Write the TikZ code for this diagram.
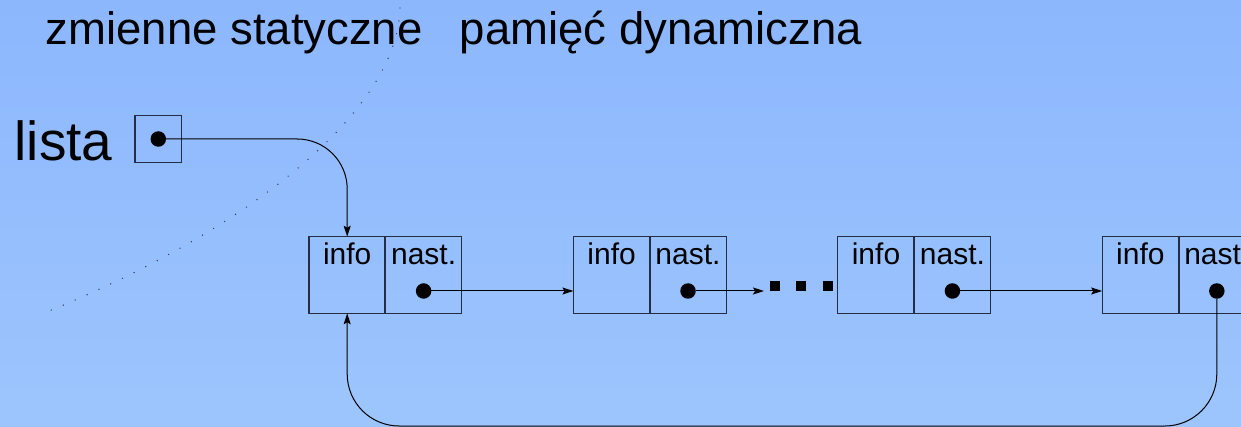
\documentclass[tikz,border=0pt]{standalone}
\usepackage{fontspec}
\setmainfont{Liberation Sans}
\usetikzlibrary{arrows.meta}
\definecolor{bgtop}{RGB}{140,183,253}
\definecolor{bgbot}{RGB}{157,197,253}
\definecolor{boxc}{RGB}{35,45,70}
\definecolor{dotc}{RGB}{45,55,85}
\tikzset{
  cell/.style={draw=boxc, line width=1.3pt, minimum width=76.4pt, minimum height=76.6pt, inner sep=0pt, outer sep=0pt},
  ptr/.style={-{Stealth[length=11pt,width=7pt,inset=2pt]}, line width=1pt},
  dotmark/.style={circle, fill=black, minimum size=15.5pt, inner sep=0pt, outer sep=0pt},
  celltext/.style={anchor=base, inner sep=0pt, font=\fontsize{30}{30}\selectfont},
  bigtext/.style={anchor=base west, inner sep=0pt, font=\fontsize{45.5}{45.5}\selectfont},
  sep/.style={draw=boxc, line width=2pt},
  ellip/.style={fill=black},
  boundary/.style={draw=dotc, line width=1.4pt, line cap=round, dash pattern=on 0pt off 13pt},
}
\begin{document}
\begin{tikzpicture}[x=1pt,y=-1pt]
\useasboundingbox (0,0) rectangle (1241,427);
\clip (0,0) rectangle (1241,427);
\shade[top color=bgtop,bottom color=bgbot] (0,0) rectangle (1241,427);

% titles
\node[bigtext] (t1) at (45.6,45) {zmienne statyczne};
\node[bigtext] (t2) at (459.7,45) {pamięć dynamiczna};

% boundary between static and dynamic memory
\draw[boundary] (400,8) .. controls (398,110) and (250,230) .. (44,313);

% list nodes
\foreach \k in {1,...,4}{
  \pgfmathsetmacro\lx{309+264.4*(\k-1)}
  \node[cell] (i\k) at (\lx+38.2,275) {};
  \node[cell] (n\k) at (\lx+114.6,275) {};
  \draw[sep] (i\k.north east) -- (i\k.south east);
  \node[celltext] (ti\k) at (\lx+38.2,265) {info};
  \node[celltext] (tn\k) at (\lx+114.6,265) {nast.};
  \node[dotmark] (d\k) at (\lx+114.6,291) {};
}

% static variable lista
\node[anchor=base west, inner sep=0pt, font=\fontsize{55}{55}\selectfont] (lista) at (14.5,161) {lista};
\node[draw=boxc, line width=1.3pt, minimum size=46.6pt, inner sep=0pt] (lbox) at (158.3,139) {};
\node[dotmark] (ld) at (158.3,139) {};

% pointers
\draw[ptr, rounded corners=50pt] (ld.east) -| (i1.north);
\draw[ptr] (d1.east) -- (d1.east -| i2.west);
\coordinate (e2) at (764,291);
\draw[ptr] (d2.east) -- (e2);
\draw[ptr] (d3.east) -- (d3.east -| i4.west);
\coordinate (bot) at (780,426);
\draw[ptr, rounded corners=52pt] (d4.south) |- (bot) -| (i1.south);

% ellipsis squares
\fill[ellip] (770,281) rectangle (780,291);
\fill[ellip] (796,281) rectangle (806,291);
\fill[ellip] (823,281) rectangle (833,291);
\end{tikzpicture}
\end{document}
